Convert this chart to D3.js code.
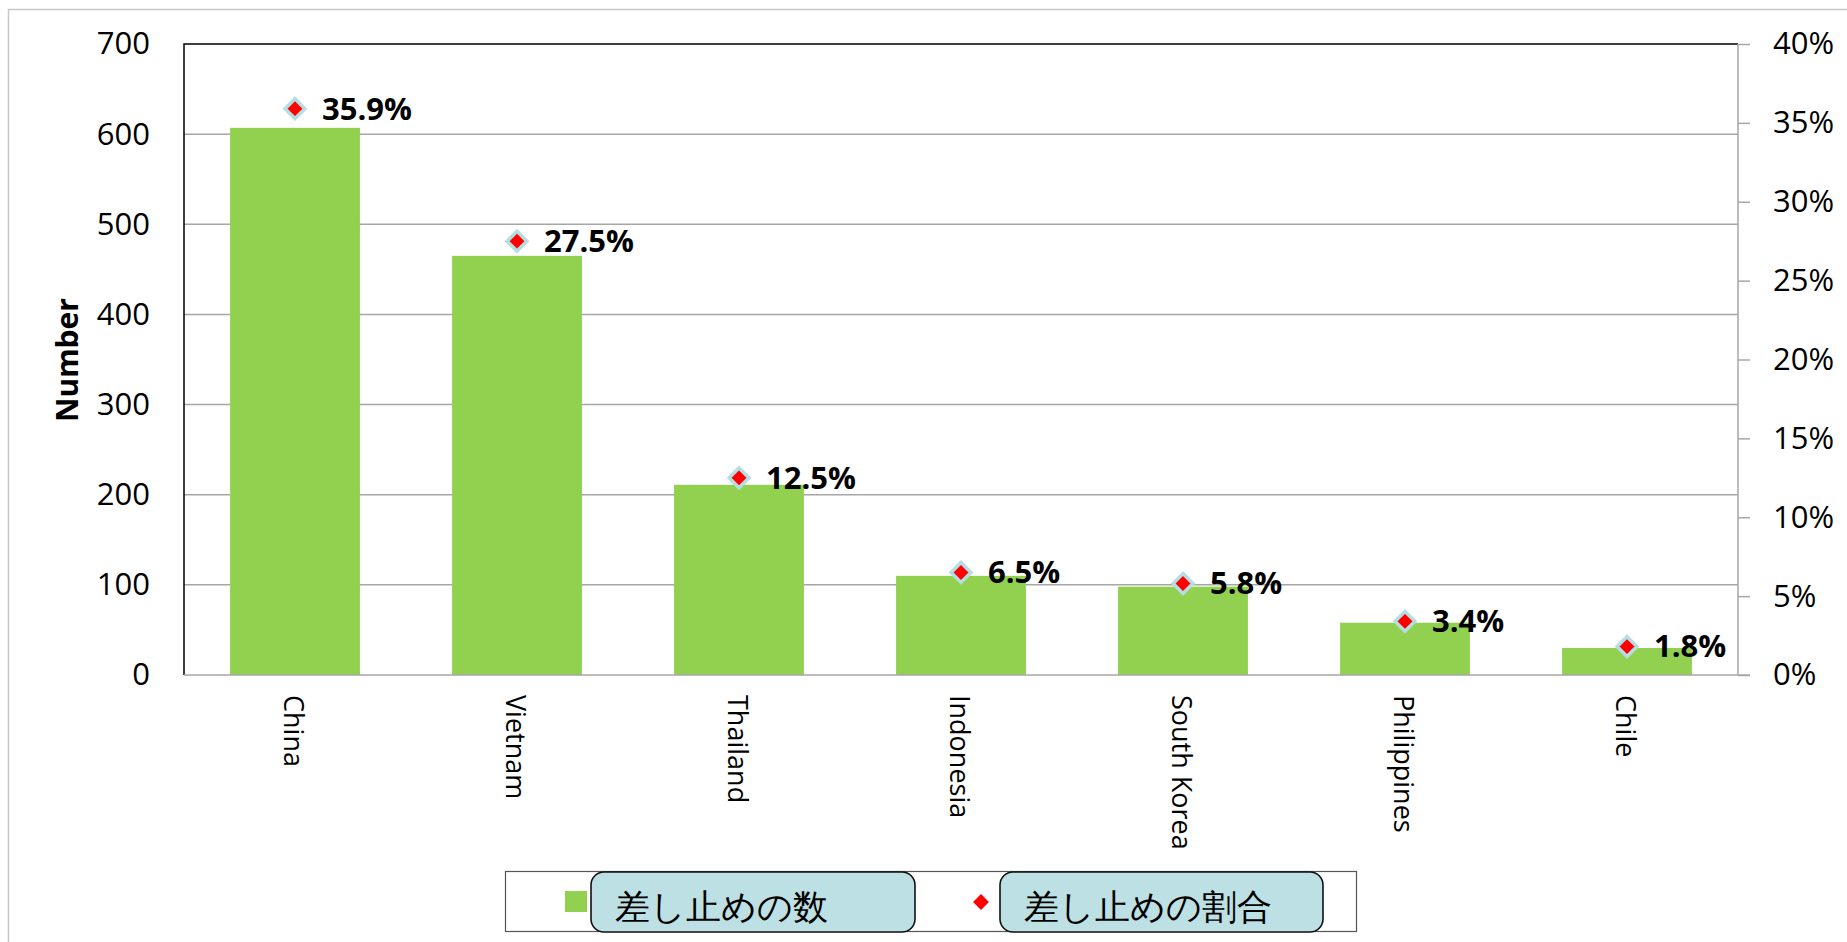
<!DOCTYPE html>
<html>
<head>
<meta charset="utf-8">
<script src="https://cdn.jsdelivr.net/npm/d3@7"></script>
<style>
  body { margin: 0; background: #fff; }
  svg text { font-family: "Open Sans", "Noto Sans", sans-serif; }
</style>
</head>
<body>
<div class="chart-container"></div>
<script>
// data
const categories = ["China", "Vietnam", "Thailand", "Indonesia", "South Korea", "Philippines", "Chile"];
const counts = [607, 465, 211, 110, 98, 58, 30];
const shares = [35.9, 27.5, 12.5, 6.5, 5.8, 3.4, 1.8];
const countTicks = [0, 100, 200, 300, 400, 500, 600, 700];
const shareTicks = [0, 5, 10, 15, 20, 25, 30, 35, 40];
const legendLabels = ["差し止めの数", "差し止めの割合"];

document.addEventListener("DOMContentLoaded", function () {
    const width = 1847;
    const height = 942;
    const left = 184, right = 1738, top = 44, bottom = 675;

    const svg = d3.select(".chart-container")
        .append("svg")
        .attr("width", width)
        .attr("height", height);

    svg.append("rect")
        .attr("width", width)
        .attr("height", height)
        .attr("fill", "#fff");

    // outer frame (runs off the right and bottom edges)
    svg.append("rect")
        .attr("x", 8.5)
        .attr("y", 9.5)
        .attr("width", width + 20)
        .attr("height", height + 20)
        .attr("fill", "none")
        .attr("stroke", "#c8c8c8")
        .attr("stroke-width", 1.5);

    const x = d3.scaleBand()
        .domain(categories)
        .range([left, right])
        .paddingInner(0.415)
        .paddingOuter(0.2075);

    const yCount = d3.scaleLinear().domain([0, 700]).range([bottom, top]);
    const yShare = d3.scaleLinear().domain([0, 40]).range([bottom, top]);

    // gridlines
    svg.append("g")
        .selectAll("line")
        .data(countTicks.slice(1, -1))
        .enter()
        .append("line")
        .attr("x1", left)
        .attr("x2", right)
        .attr("y1", d => yCount(d))
        .attr("y2", d => yCount(d))
        .attr("stroke", "#a6a6a6")
        .attr("stroke-width", 1.5);

    // plot border: black top + left
    svg.append("path")
        .attr("d", `M${left},${bottom}V${top}H${right}`)
        .attr("fill", "none")
        .attr("stroke", "#000")
        .attr("stroke-width", 1.5);

    // bars
    svg.append("g")
        .selectAll("rect")
        .data(counts)
        .enter()
        .append("rect")
        .attr("x", (d, i) => x(categories[i]))
        .attr("width", x.bandwidth())
        .attr("y", d => yCount(d))
        .attr("height", d => bottom - yCount(d))
        .attr("fill", "#92d050");

    // left axis labels
    const leftAxis = svg.append("g")
        .attr("transform", `translate(${left},0)`)
        .call(d3.axisLeft(yCount).tickValues(countTicks).tickSize(0).tickPadding(34));
    leftAxis.select(".domain").remove();
    leftAxis.selectAll("text")
        .attr("font-size", 31)
        .attr("fill", "#000")
        .attr("font-family", "'Open Sans', sans-serif");

    // right axis
    const rightAxis = svg.append("g")
        .attr("transform", `translate(${right},0)`)
        .call(d3.axisRight(yShare).tickValues(shareTicks).tickSize(12).tickPadding(23)
            .tickFormat(d => d + "%"));
    rightAxis.select(".domain")
        .attr("d", `M0,${top}V${bottom}`)
        .attr("stroke", "#a6a6a6")
        .attr("stroke-width", 1.5);
    rightAxis.selectAll(".tick line")
        .attr("stroke", "#a6a6a6")
        .attr("stroke-width", 1.5);
    rightAxis.selectAll("text")
        .attr("font-size", 31)
        .attr("fill", "#000")
        .attr("font-family", "'Open Sans', sans-serif");

    // bottom axis line
    svg.append("line")
        .attr("x1", left)
        .attr("x2", right + 12)
        .attr("y1", bottom)
        .attr("y2", bottom)
        .attr("stroke", "#a6a6a6")
        .attr("stroke-width", 1.5);

    // category labels, rotated
    svg.append("g")
        .selectAll("text")
        .data(categories)
        .enter()
        .append("text")
        .attr("transform", d => `translate(${x(d) + x.bandwidth() / 2 - 2},${bottom + 20}) rotate(90)`)
        .attr("dy", "0.35em")
        .attr("font-size", 27)
        .attr("fill", "#000")
        .text(d => d);

    // y title
    svg.append("text")
        .attr("transform", "translate(67,360) rotate(-90)")
        .attr("text-anchor", "middle")
        .attr("dy", "0.35em")
        .attr("font-size", 30)
        .attr("font-weight", "bold")
        .text("Number");

    // share markers
    const diamond = d3.symbol().type(d3.symbolDiamond2);
    const markers = svg.append("g")
        .selectAll("g")
        .data(shares)
        .enter()
        .append("g")
        .attr("transform", (d, i) => `translate(${x(categories[i]) + x.bandwidth() / 2},${yShare(d)})`);

    markers.append("path")
        .attr("d", diamond.size(250)())
        .attr("fill", "#ff0000")
        .attr("stroke", "#b4dde4")
        .attr("stroke-width", 3.5);

    markers.append("text")
        .attr("x", 27)
        .attr("dy", "0.35em")
        .attr("font-size", 31)
        .attr("font-weight", "bold")
        .attr("fill", "#000")
        .text(d => d.toFixed(1) + "%");

    // legend
    svg.append("rect")
        .attr("x", 505.5)
        .attr("y", 871.5)
        .attr("width", 851)
        .attr("height", 60)
        .attr("fill", "#fff")
        .attr("stroke", "#555")
        .attr("stroke-width", 1.2);

    const legendBoxX = [591, 1000];
    const legend = svg.append("g")
        .selectAll("g")
        .data(legendLabels)
        .enter()
        .append("g")
        .attr("transform", (d, i) => `translate(${legendBoxX[i]},872)`);

    legend.append("rect")
        .attr("width", (d, i) => i === 0 ? 324 : 323)
        .attr("height", 60)
        .attr("rx", 13)
        .attr("fill", "#bce0e4")
        .attr("stroke", "#111")
        .attr("stroke-width", 1.6);

    legend.append("text")
        .attr("x", 24)
        .attr("y", 35)
        .attr("dy", "0.35em")
        .attr("font-size", 35)
        .attr("font-family", "'Noto Sans CJK JP', sans-serif")
        .attr("fill", "#000")
        .text(d => d);

    // legend swatches
    svg.append("rect")
        .attr("x", 565)
        .attr("y", 891)
        .attr("width", 22)
        .attr("height", 21)
        .attr("fill", "#92d050");

    svg.append("path")
        .attr("transform", "translate(981,902)")
        .attr("d", diamond.size(160)())
        .attr("fill", "#ff0000");
});
</script>
</body>
</html>
